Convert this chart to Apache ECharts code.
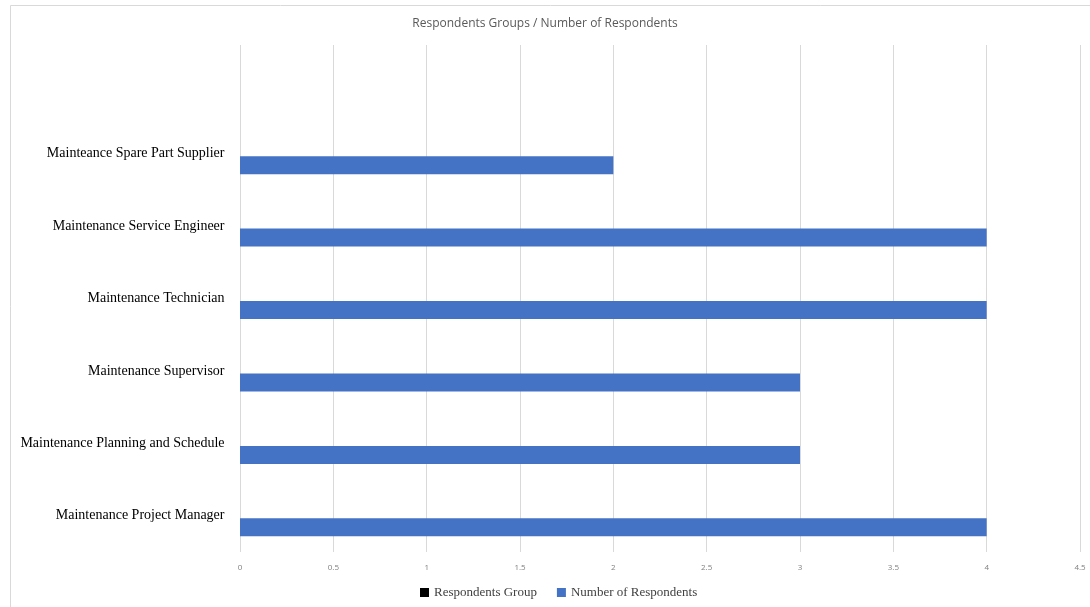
<!DOCTYPE html>
<html><head><meta charset="utf-8">
<script src="https://cdn.jsdelivr.net/npm/echarts@6/dist/echarts.min.js"></script>
<style>html,body{margin:0;padding:0;background:#fff}#c{width:1090px;height:607px}</style>
</head><body><div id="c"></div>
<script>
const categories = ['Maintenance Project Manager ', 'Maintenance Planning and Schedule ', 'Maintenance Supervisor ', 'Maintenance Technician ', 'Maintenance Service Engineer ', 'Mainteance Spare Part Supplier ', ''];
const respondentsGroup = [null, null, null, null, null, null, null];
const numberOfRespondents = [4, 3, 3, 4, 4, 2, null];
const xTicks = [0, 0.5, 1, 1.5, 2, 2.5, 3, 3.5, 4, 4.5];

const chart = echarts.init(document.getElementById('c'));
chart.setOption({
  animation: false,
  title: {text: 'Respondents Groups / Number of Respondents', left: 'center', top: 13,
    textStyle: {fontFamily: 'Open Sans', fontSize: 12, fontWeight: 'normal', color: '#595959'}},
  graphic: [{type: 'rect', shape: {x: 10.5, y: 5.5, width: 1100, height: 700}, style: {fill: 'none', stroke: '#d9d9d9', lineWidth: 1}, silent: true, z: -10}],
  grid: {left: 240, right: 10, top: 45, bottom: 55, containLabel: false},
  legend: {bottom: 3, left: 415, itemWidth: 9, itemHeight: 9, itemGap: 20, icon: 'rect',
    data: ['Respondents Group', 'Number of Respondents'],
    textStyle: {fontFamily: 'Liberation Serif', fontSize: 13, color: '#404040'}},
  xAxis: {type: 'value', min: 0, max: 4.5, interval: 0.5,
    axisLine: {show: false}, axisTick: {show: false},
    splitLine: {lineStyle: {color: '#d9d9d9'}},
    axisLabel: {fontFamily: 'Open Sans', fontSize: 8, color: '#808080', margin: 12,
      formatter: v => xTicks.includes(v) ? String(v) : ''}},
  yAxis: {type: 'category', data: categories,
    axisLine: {show: false}, axisTick: {show: false},
    axisLabel: {fontFamily: 'Liberation Serif', fontSize: 14, color: '#000', margin: 12, padding: [6, 0, 0, 0]}},
  series: [
    {name: 'Respondents Group', type: 'bar', data: respondentsGroup, barWidth: 18, barGap: '28%', itemStyle: {color: '#000000'}},
    {name: 'Number of Respondents', type: 'bar', data: numberOfRespondents, barWidth: 18, barGap: '28%', itemStyle: {color: '#4472c4'}}
  ]
});
</script></body></html>
